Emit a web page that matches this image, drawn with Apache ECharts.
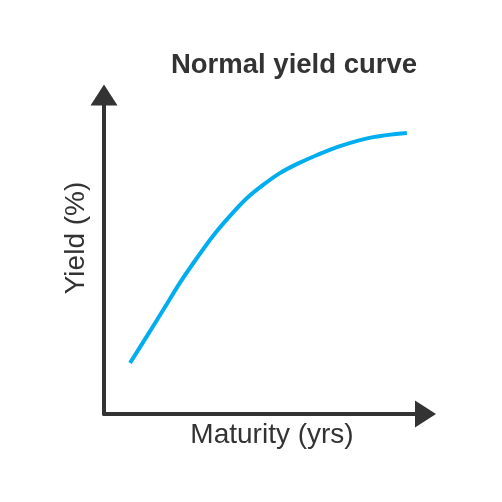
<!DOCTYPE html>
<html>
<head>
<meta charset="utf-8">
<script src="https://cdn.jsdelivr.net/npm/echarts@6/dist/echarts.min.js"></script>
<style>html,body{margin:0;padding:0;background:#fff}#c{width:502px;height:502px}</style>
</head>
<body>
<div id="c"></div>
<script>
const titleText = "Normal yield curve";
const xAxisName = "Maturity (yrs)";
const yAxisName = "Yield (%)";
const maturity = [0.81, 1.34, 1.84, 2.36, 2.89, 3.39, 3.92, 4.45, 4.95, 5.47, 6.01, 6.63, 7.34, 8.37, 9.42];
const yieldPct = [1.60, 2.45, 3.26, 4.11, 4.89, 5.58, 6.21, 6.77, 7.18, 7.55, 7.84, 8.12, 8.40, 8.68, 8.81];

const chart = echarts.init(document.getElementById('c'), null, {renderer: 'canvas'});
const axisColor = '#333333';
const axisCommon = {
  type: 'value', min: 0, max: 10,
  axisLine: {show: true, onZero: false, symbol: ['none', 'triangle'], symbolSize: [27, 21],
    lineStyle: {color: axisColor, width: 4}},
  axisTick: {show: false}, axisLabel: {show: false}, splitLine: {show: false}
};
chart.setOption({
  animation: false,
  backgroundColor: '#ffffff',
  grid: {left: 104, right: 76.5, top: 95, bottom: 88},
  xAxis: Object.assign({}, axisCommon),
  yAxis: Object.assign({}, axisCommon),
  graphic: [
    {type: 'text', x: 294, y: 65, style: {text: titleText, fontFamily: 'Liberation Sans, Arial, sans-serif', fontWeight: 'bold', fontSize: 27.5, fill: '#333333', align: 'center', verticalAlign: 'middle'}},
    {type: 'text', x: 272, y: 435, style: {text: xAxisName, fontFamily: 'Liberation Sans, Arial, sans-serif', fontSize: 28, fill: '#333333', align: 'center', verticalAlign: 'middle'}},
    {type: 'text', x: 76, y: 238, rotation: Math.PI / 2, style: {text: yAxisName, fontFamily: 'Liberation Sans, Arial, sans-serif', fontSize: 28, fill: '#333333', align: 'center', verticalAlign: 'middle'}}
  ],
  series: [{
    type: 'line', smooth: 0.3, showSymbol: false,
    data: maturity.map((m, i) => [m, yieldPct[i]]),
    lineStyle: {color: '#00AEEF', width: 4}
  }]
});
</script>
</body>
</html>
